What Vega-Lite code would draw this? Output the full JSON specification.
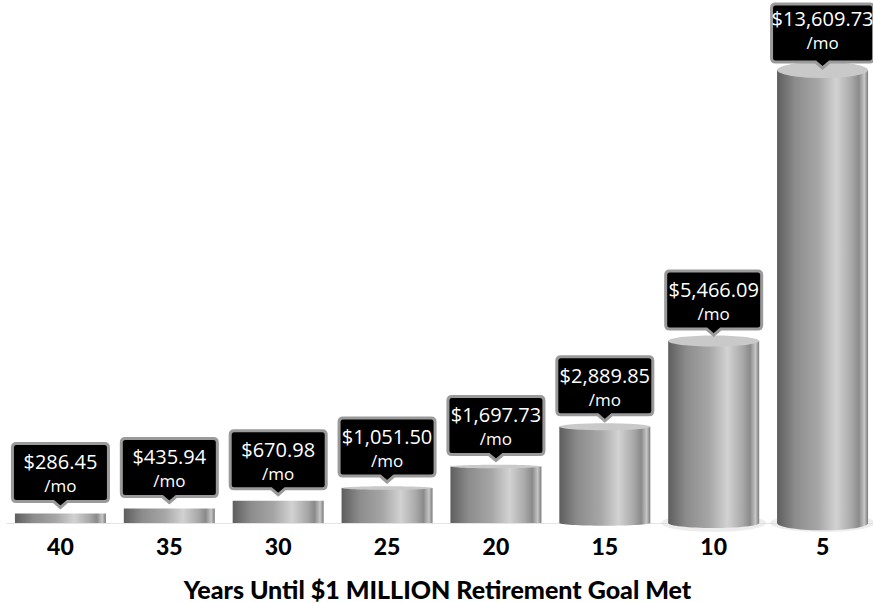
{
  "$schema": "https://vega.github.io/schema/vega-lite/v6.json",
  "autosize": "none",
  "width": 871,
  "height": 523,
  "padding": {"left": 6, "top": 0, "right": 0, "bottom": 80},
  "background": "white",
  "config": {"view": {"stroke": null}},
  "data": {
    "values": [
      {"years": 40, "monthly": 286.45, "label": "$286.45"},
      {"years": 35, "monthly": 435.94, "label": "$435.94"},
      {"years": 30, "monthly": 670.98, "label": "$670.98"},
      {"years": 25, "monthly": 1051.50, "label": "$1,051.50"},
      {"years": 20, "monthly": 1697.73, "label": "$1,697.73"},
      {"years": 15, "monthly": 2889.85, "label": "$2,889.85"},
      {"years": 10, "monthly": 5466.09, "label": "$5,466.09"},
      {"years": 5, "monthly": 13609.73, "label": "$13,609.73"}
    ]
  },
  "encoding": {
    "x": {
      "field": "years",
      "type": "ordinal",
      "sort": [40, 35, 30, 25, 20, 15, 10, 5],
      "scale": {"paddingInner": 0, "paddingOuter": 0},
      "axis": {
        "title": "Years Until $1 MILLION Retirement Goal Met",
        "titleFont": "Lato",
        "titleFontWeight": 900,
        "titleFontSize": 25,
        "titleColor": "#000000",
        "titlePadding": 19,
        "titleX": 431,
        "labelFont": "Lato",
        "labelFontWeight": 900,
        "labelFontSize": 23,
        "labelColor": "#000000",
        "labelAngle": 0,
        "labelPadding": 13,
        "ticks": false,
        "domainColor": "#e4e4e4",
        "domainWidth": 1
      }
    }
  },
  "layer": [
    {
      "transform": [{"filter": "datum.years == 5 || datum.years == 10"}],
      "mark": {"type": "point", "filled": true, "opacity": 0.5, "size": 11000, "strokeWidth": 0, "color": "#dcdcdc",
        "y": "height",
        "shape": "M-1,0A1,0.17,0,1,0,1,0A1,0.17,0,1,0,-1,0Z"}
    },
    {
      "transform": [{"filter": "datum.years == 5"}],
      "mark": {"type": "point", "filled": true, "opacity": 1, "size": 8281, "strokeWidth": 0,
        "y": "height",
        "color": {"gradient": "linear", "x1": 0, "x2": 1, "y1": 0, "y2": 0,
          "stops": [
            {"offset": 0, "color": "#5e5e5e"},
            {"offset": 0.2, "color": "#8c8c8c"},
            {"offset": 0.45, "color": "#a6a6a6"},
            {"offset": 0.65, "color": "#d2d2d2"},
            {"offset": 0.82, "color": "#a8a8a8"},
            {"offset": 0.9, "color": "#8a8a8a"},
            {"offset": 0.96, "color": "#c6c6c6"},
            {"offset": 1, "color": "#7a7a7a"}
          ]},
        "shape": "M-1,0A1,0.16,0,1,0,1,0A1,0.16,0,1,0,-1,0Z"}
    },
    {
      "transform": [{"filter": "datum.years == 10"}],
      "mark": {"type": "point", "filled": true, "opacity": 1, "size": 8281, "strokeWidth": 0,
        "y": "height",
        "color": {"gradient": "linear", "x1": 0, "x2": 1, "y1": 0, "y2": 0,
          "stops": [
            {"offset": 0, "color": "#5e5e5e"},
            {"offset": 0.2, "color": "#8c8c8c"},
            {"offset": 0.45, "color": "#a6a6a6"},
            {"offset": 0.65, "color": "#d2d2d2"},
            {"offset": 0.82, "color": "#a8a8a8"},
            {"offset": 0.9, "color": "#8a8a8a"},
            {"offset": 0.96, "color": "#c6c6c6"},
            {"offset": 1, "color": "#7a7a7a"}
          ]},
        "shape": "M-1,0A1,0.11,0,1,0,1,0A1,0.11,0,1,0,-1,0Z"}
    },
    {
      "transform": [{"filter": "datum.years == 15"}],
      "mark": {"type": "point", "filled": true, "opacity": 1, "size": 8281, "strokeWidth": 0,
        "y": "height",
        "color": {"gradient": "linear", "x1": 0, "x2": 1, "y1": 0, "y2": 0,
          "stops": [
            {"offset": 0, "color": "#5e5e5e"},
            {"offset": 0.2, "color": "#8c8c8c"},
            {"offset": 0.45, "color": "#a6a6a6"},
            {"offset": 0.65, "color": "#d2d2d2"},
            {"offset": 0.82, "color": "#a8a8a8"},
            {"offset": 0.9, "color": "#8a8a8a"},
            {"offset": 0.96, "color": "#c6c6c6"},
            {"offset": 1, "color": "#7a7a7a"}
          ]},
        "shape": "M-1,0A1,0.06,0,1,0,1,0A1,0.06,0,1,0,-1,0Z"}
    },
    {
      "mark": {"type": "bar", "width": 91,
        "color": {"gradient": "linear", "x1": 0, "x2": 1, "y1": 0, "y2": 0,
          "stops": [
            {"offset": 0, "color": "#5e5e5e"},
            {"offset": 0.2, "color": "#8c8c8c"},
            {"offset": 0.45, "color": "#a6a6a6"},
            {"offset": 0.65, "color": "#d2d2d2"},
            {"offset": 0.82, "color": "#a8a8a8"},
            {"offset": 0.9, "color": "#8a8a8a"},
            {"offset": 0.96, "color": "#c6c6c6"},
            {"offset": 1, "color": "#7a7a7a"}
          ]}},
      "encoding": {
        "y": {"field": "monthly", "type": "quantitative",
          "scale": {"domain": [0, 15713], "nice": false, "zero": true},
          "axis": null}
      }
    },
    {
      "transform": [{"filter": "datum.years == 5"}],
      "mark": {"type": "point", "filled": true, "opacity": 1, "size": 8281, "strokeWidth": 0, "color": "#c9c9c9",
        "shape": "M-1,0A1,0.176,0,1,0,1,0A1,0.176,0,1,0,-1,0Z"},
      "encoding": {"y": {"field": "monthly", "type": "quantitative"}}
    },
    {
      "transform": [{"filter": "datum.years == 10"}],
      "mark": {"type": "point", "filled": true, "opacity": 1, "size": 8281, "strokeWidth": 0, "color": "#c9c9c9",
        "shape": "M-1,0A1,0.121,0,1,0,1,0A1,0.121,0,1,0,-1,0Z"},
      "encoding": {"y": {"field": "monthly", "type": "quantitative"}}
    },
    {
      "transform": [{"filter": "datum.years == 15"}],
      "mark": {"type": "point", "filled": true, "opacity": 1, "size": 8281, "strokeWidth": 0, "color": "#c9c9c9",
        "shape": "M-1,0A1,0.077,0,1,0,1,0A1,0.077,0,1,0,-1,0Z"},
      "encoding": {"y": {"field": "monthly", "type": "quantitative"}}
    },
    {
      "transform": [{"filter": "datum.years == 20 || datum.years == 25"}],
      "mark": {"type": "point", "filled": true, "opacity": 1, "size": 8281, "strokeWidth": 0, "color": "#c9c9c9",
        "shape": "M-1,0A1,0.04,0,1,0,1,0A1,0.04,0,1,0,-1,0Z"},
      "encoding": {"y": {"field": "monthly", "type": "quantitative"}}
    },
    {
      "mark": {"type": "point", "filled": true, "opacity": 1, "size": 10000,
        "color": "#000000", "stroke": "#9a9a9a", "strokeWidth": 3,
        "shape": "M-0.88,-1.4L0.88,-1.4Q0.96,-1.4,0.96,-1.32L0.96,-0.32Q0.96,-0.24,0.88,-0.24L0.14,-0.24L0,-0.12L-0.14,-0.24L-0.88,-0.24Q-0.96,-0.24,-0.96,-0.32L-0.96,-1.32Q-0.96,-1.4,-0.88,-1.4Z"},
      "transform": [{"filter": "datum.years != 5"}],
      "encoding": {
        "y": {"field": "monthly", "type": "quantitative"}
      }
    },
    {
      "mark": {"type": "point", "filled": true, "opacity": 1, "size": 10000,
        "color": "#000000", "stroke": "#9a9a9a", "strokeWidth": 3,
        "shape": "M-0.94,-1.32L0.94,-1.32Q1.02,-1.32,1.02,-1.24L1.02,-0.24Q1.02,-0.16,0.94,-0.16L0.14,-0.16L0,-0.04L-0.14,-0.16L-0.94,-0.16Q-1.02,-0.16,-1.02,-0.24L-1.02,-1.24Q-1.02,-1.32,-0.94,-1.32Z"},
      "transform": [{"filter": "datum.years == 5"}],
      "encoding": {
        "y": {"field": "monthly", "type": "quantitative"}
      }
    },
    {
      "mark": {"type": "text", "font": "Open Sans", "fontSize": 20, "color": "#ffffff",
        "baseline": "alphabetic", "dy": -44},
      "encoding": {
        "y": {"field": "monthly", "type": "quantitative"},
        "text": {"field": "label", "type": "nominal"}
      }
    },
    {
      "mark": {"type": "text", "font": "Open Sans", "fontSize": 17, "color": "#ffffff",
        "baseline": "alphabetic", "dy": -21},
      "encoding": {
        "y": {"field": "monthly", "type": "quantitative"},
        "text": {"value": "/mo"}
      }
    }
  ]
}
